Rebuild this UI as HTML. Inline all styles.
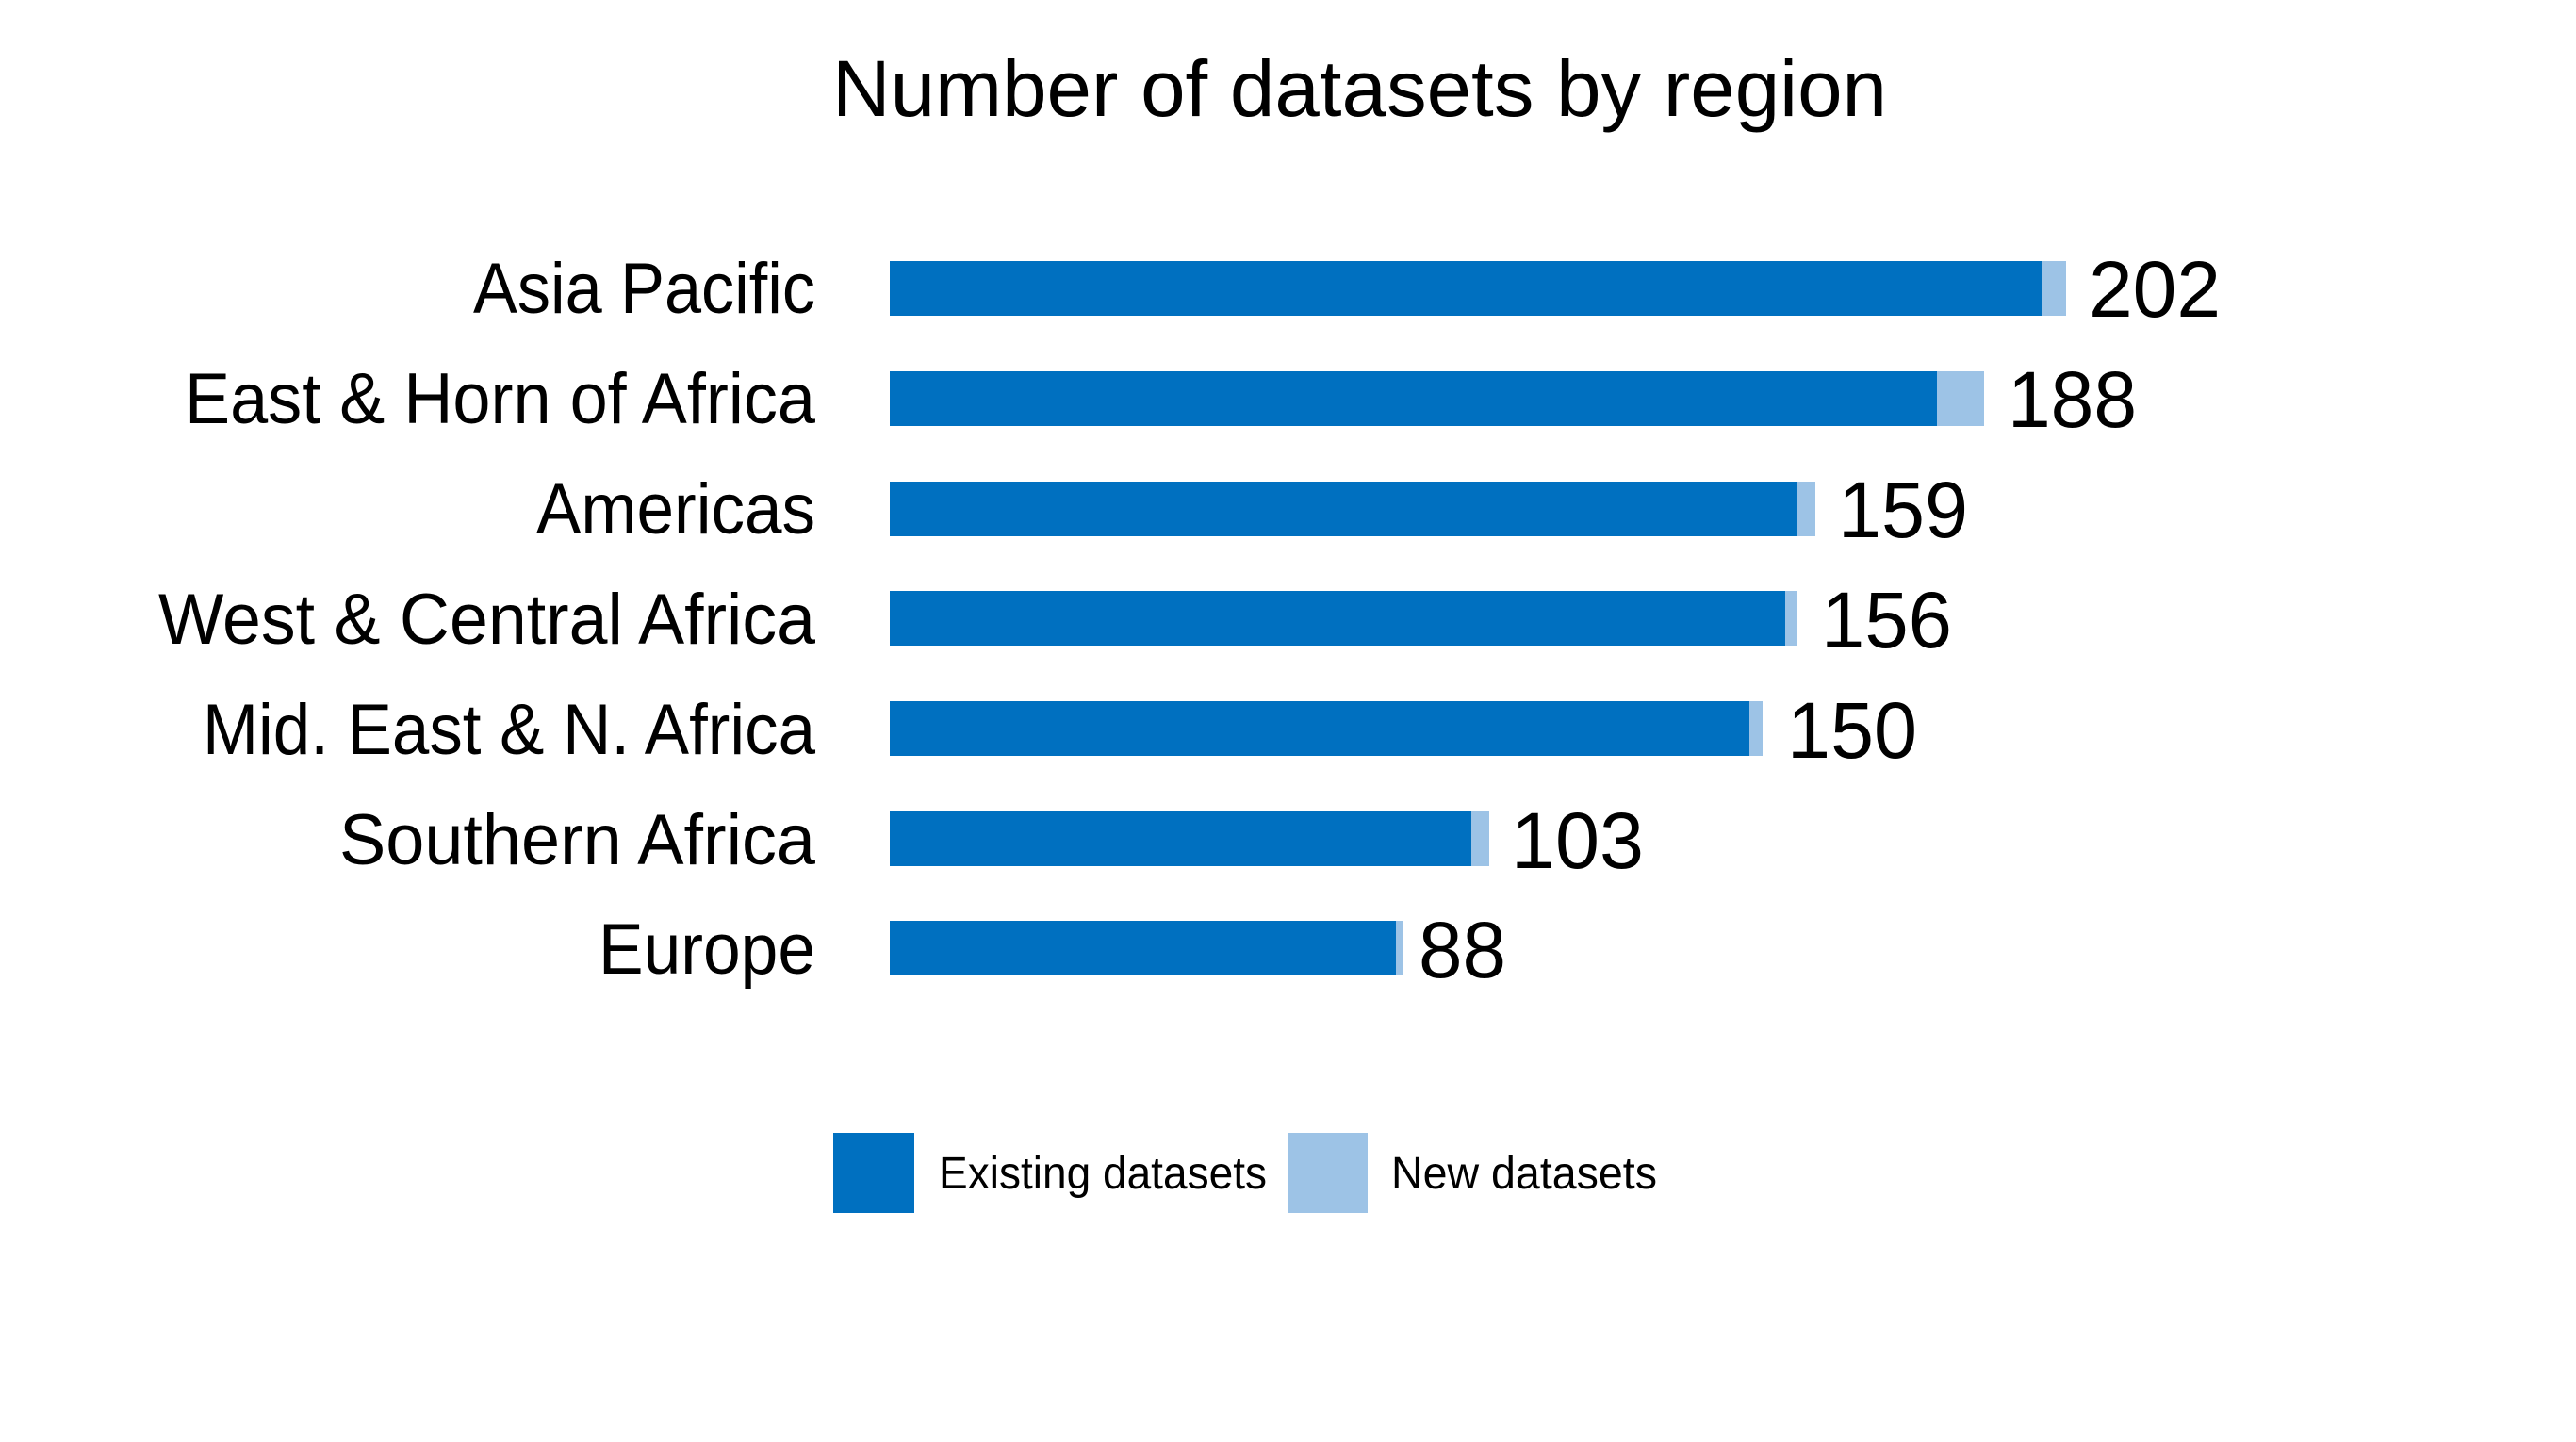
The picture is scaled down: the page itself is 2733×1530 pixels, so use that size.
<!DOCTYPE html>
<html><head><meta charset="utf-8"><style>
html,body{margin:0;padding:0;background:#fff;}
svg{display:block;}
text{font-family:"Liberation Sans",sans-serif;fill:#000;}
</style></head><body>
<svg width="2733" height="1530" viewBox="0 0 2733 1530" xmlns="http://www.w3.org/2000/svg">
<rect width="2733" height="1530" fill="#fff"/>
<text x="883" y="123" font-size="84" textLength="1119" lengthAdjust="spacingAndGlyphs">Number of datasets by region</text>
<g font-size="76" text-anchor="end">
<text x="865" y="332" textLength="363" lengthAdjust="spacingAndGlyphs">Asia Pacific</text>
<text x="865" y="449" textLength="669" lengthAdjust="spacingAndGlyphs">East &amp; Horn of Africa</text>
<text x="865" y="566" textLength="296" lengthAdjust="spacingAndGlyphs">Americas</text>
<text x="865" y="683" textLength="697" lengthAdjust="spacingAndGlyphs">West &amp; Central Africa</text>
<text x="865" y="800" textLength="650" lengthAdjust="spacingAndGlyphs">Mid. East &amp; N. Africa</text>
<text x="865" y="917" textLength="505" lengthAdjust="spacingAndGlyphs">Southern Africa</text>
<text x="865" y="1033" textLength="230" lengthAdjust="spacingAndGlyphs">Europe</text>
</g>
<g fill="#9DC3E6">
<rect x="944" y="277" width="1248" height="58"/>
<rect x="944" y="394" width="1161" height="58"/>
<rect x="944" y="511" width="982" height="58"/>
<rect x="944" y="627" width="963" height="58"/>
<rect x="944" y="744" width="926" height="58"/>
<rect x="944" y="861" width="636" height="58"/>
<rect x="944" y="977" width="544" height="58"/>
</g>
<g fill="#0070C0">
<rect x="944" y="277" width="1222" height="58"/>
<rect x="944" y="394" width="1111" height="58"/>
<rect x="944" y="511" width="963" height="58"/>
<rect x="944" y="627" width="950" height="58"/>
<rect x="944" y="744" width="912" height="58"/>
<rect x="944" y="861" width="617" height="58"/>
<rect x="944" y="977" width="537" height="58"/>
</g>
<g font-size="84">
<text x="2216" y="336" textLength="140" lengthAdjust="spacingAndGlyphs">202</text>
<text x="2130" y="453" textLength="137" lengthAdjust="spacingAndGlyphs">188</text>
<text x="1950" y="570" textLength="138" lengthAdjust="spacingAndGlyphs">159</text>
<text x="1932" y="687" textLength="139" lengthAdjust="spacingAndGlyphs">156</text>
<text x="1896" y="804" textLength="138" lengthAdjust="spacingAndGlyphs">150</text>
<text x="1603" y="921" textLength="141" lengthAdjust="spacingAndGlyphs">103</text>
<text x="1505" y="1037" textLength="93" lengthAdjust="spacingAndGlyphs">88</text>
</g>
<rect x="884" y="1202" width="86" height="85" fill="#0070C0"/>
<rect x="1366" y="1202" width="85" height="85" fill="#9DC3E6"/>
<g font-size="48">
<text x="996" y="1261" textLength="348" lengthAdjust="spacingAndGlyphs">Existing datasets</text>
<text x="1476" y="1261" textLength="282" lengthAdjust="spacingAndGlyphs">New datasets</text>
</g>
</svg>
</body></html>
